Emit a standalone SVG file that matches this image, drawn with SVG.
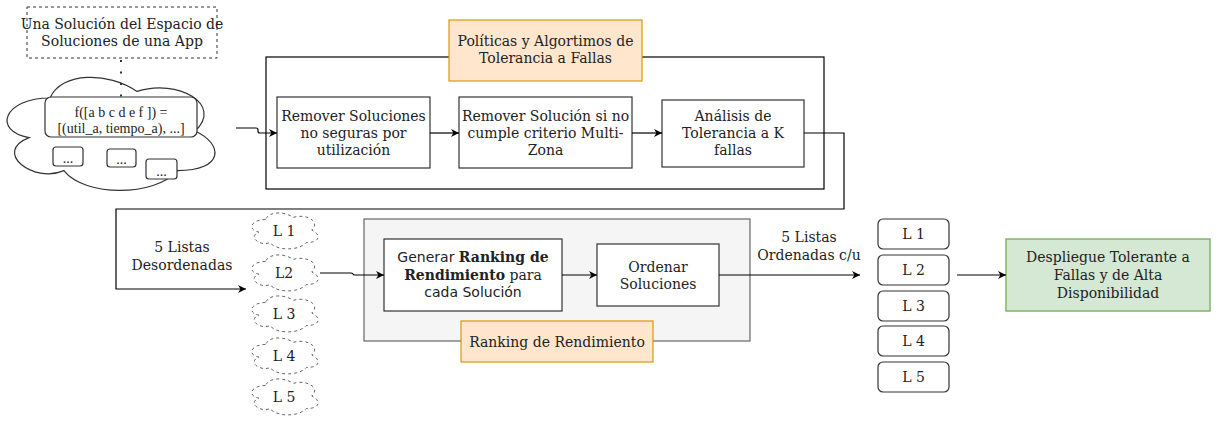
<svg xmlns="http://www.w3.org/2000/svg" width="1222" height="428" viewBox="0 0 1222 428">
<style>
text{font-family:"DejaVu Serif","Liberation Serif",serif;font-size:14px;fill:#222;text-anchor:middle}
.box{fill:#fff;stroke:#333;stroke-width:1.2}
.orange{fill:#ffe6cc;stroke:#d79b00;stroke-width:1.2}
.green{fill:#d5e8d4;stroke:#82b366;stroke-width:1.5}
.grey{fill:#f5f5f5;stroke:#666;stroke-width:1.2}
.cont{fill:none;stroke:#000;stroke-width:1.2}
.conn{fill:none;stroke:#000;stroke-width:1.2}
.times{font-family:"Liberation Serif",serif}
.sans{font-family:"DejaVu Sans",sans-serif}
.dcloud{fill:#fff;stroke:#666;stroke-width:1;stroke-dasharray:3 3}
</style>
<defs>
<marker id="arr" viewBox="0 0 10 10" refX="10" refY="5" markerWidth="8" markerHeight="8" markerUnits="userSpaceOnUse" orient="auto">
<path d="M0,0 L10,5 L0,10 L3,5 z" fill="#000"/>
</marker>
<path id="smallcloud" d="M18.5 10.5 C3.7 10.5 0 21 11.84 23.1 C0 27.72 13.32 37.8 22.94 33.6 C29.6 42 51.8 42 59.2 33.6 C74 33.6 74 25.2 64.75 21 C74 12.6 59.2 4.2 46.25 8.4 C37 2.1 22.2 2.1 18.5 10.5 Z"/>
</defs>

<g id="solucion-app">
<rect x="27" y="7" width="190" height="51" fill="#fff" stroke="#333" stroke-width="1" stroke-dasharray="3 3"/>
<text x="122" y="29" font-size="11">Una Solución del Espacio de</text>
<text x="122" y="46" font-size="11">Soluciones de una App</text>
</g>

<g id="espacio-cloud">
<path d="M50 98 C3.6 98 -8 131 29.1 137.6 C-8 152.1 33.8 183.8 63.9 170.6 C84.8 197 154.4 197 177.6 170.6 C224 170.6 224 144.2 195 131 C224 104.6 177.6 78.2 137 91.4 C108 71.6 61.6 71.6 50 98 Z" fill="#fff" stroke="#333" stroke-width="1.2"/>
<line x1="121" y1="60" x2="121" y2="97" stroke="#333" stroke-width="2" stroke-dasharray="2 9.5"/>
<rect x="45" y="97" width="152" height="40" rx="6" class="box"/>
<text class="times" x="121" y="117" font-size="15.5">f([a b c d e f ]) =</text>
<text class="times" x="121" y="133" font-size="15.5">[(util_a, tiempo_a), ...]</text>
<rect x="53" y="147" width="30" height="19" rx="3" class="box"/>
<text class="times" x="68" y="163" font-size="17">...</text>
<rect x="107" y="149" width="29" height="18" rx="3" class="box"/>
<text class="times" x="121.5" y="164" font-size="17">...</text>
<rect x="146" y="159" width="31" height="20" rx="3" class="box"/>
<text class="times" x="161.5" y="176" font-size="17">...</text>
</g>

<g id="politicas">
<rect x="266" y="57" width="558" height="132" class="cont"/>
<rect x="449" y="20" width="193" height="61" class="orange"/>
<text x="545.5" y="46">Políticas y Algortimos de</text>
<text x="545.5" y="63">Tolerancia a Fallas</text>
</g>

<g id="remover-soluciones">
<rect x="277" y="97" width="153" height="71" class="box"/>
<text x="353.5" y="121">Remover Soluciones</text>
<text x="353.5" y="138">no seguras por</text>
<text x="353.5" y="155">utilización</text>
</g>

<g id="remover-multizona">
<rect x="459" y="97" width="173" height="71" class="box"/>
<text x="545.5" y="121">Remover Solución si no</text>
<text x="545.5" y="138">cumple criterio Multi-</text>
<text x="545.5" y="155">Zona</text>
</g>

<g id="analisis">
<rect x="662" y="100" width="142" height="67" class="box"/>
<text x="733" y="121">Análisis de</text>
<text x="733" y="138">Tolerancia a K</text>
<text x="733" y="155">fallas</text>
</g>

<g id="label-desordenadas">
<text x="182" y="252">5 Listas</text>
<text x="182" y="270">Desordenadas</text>
</g>

<g id="listas-desordenadas">
<use href="#smallcloud" x="247" y="209" class="dcloud"/>
<text x="284" y="236">L 1</text>
<use href="#smallcloud" x="247" y="251" class="dcloud"/>
<text x="284" y="278">L2</text>
<use href="#smallcloud" x="247" y="292" class="dcloud"/>
<text x="284" y="319">L 3</text>
<use href="#smallcloud" x="247" y="334" class="dcloud"/>
<text x="284" y="361">L 4</text>
<use href="#smallcloud" x="247" y="375" class="dcloud"/>
<text x="284" y="402">L 5</text>
</g>

<g id="ranking">
<rect x="364" y="219" width="386" height="122" class="grey"/>
<rect x="461" y="321" width="192" height="41" class="orange"/>
<text x="557" y="346.5">Ranking de Rendimiento</text>
</g>

<g id="generar">
<rect x="384" y="239" width="178" height="72" class="box"/>
<text x="473" y="262"><tspan class="sans">Generar </tspan><tspan font-weight="bold">Ranking de</tspan></text>
<text x="473" y="280"><tspan font-weight="bold">Rendimiento</tspan> para</text>
<text x="473" y="297" class="sans">cada Solución</text>
</g>

<g id="ordenar">
<rect x="597" y="244" width="122" height="62" class="box"/>
<text x="658" y="271.5">Ordenar</text>
<text x="658" y="288.5">Soluciones</text>
</g>

<g id="label-ordenadas">
<text x="809" y="242">5 Listas</text>
<text x="809" y="260">Ordenadas c/u</text>
</g>

<g id="listas-ordenadas">
<rect x="878" y="219" width="71" height="30" rx="5" class="box"/>
<text x="913.5" y="239">L 1</text>
<rect x="878" y="255" width="71" height="30" rx="5" class="box"/>
<text x="913.5" y="275">L 2</text>
<rect x="878" y="291" width="71" height="30" rx="5" class="box"/>
<text x="913.5" y="311">L 3</text>
<rect x="878" y="326" width="71" height="30" rx="5" class="box"/>
<text x="913.5" y="346">L 4</text>
<rect x="878" y="362" width="71" height="30" rx="5" class="box"/>
<text x="913.5" y="382">L 5</text>
</g>

<g id="despliegue">
<rect x="1006" y="239" width="204" height="72" class="green"/>
<text x="1108" y="262">Despliegue Tolerante a</text>
<text x="1108" y="280">Fallas y de Alta</text>
<text x="1108" y="298">Disponibilidad</text>
</g>

<g id="connectors">
<path class="conn" d="M236 128 H256 Q258 128 258 130 V131 Q258 133 260 133 H277" marker-end="url(#arr)"/>
<path class="conn" d="M430 133 H459" marker-end="url(#arr)"/>
<path class="conn" d="M632 133 H662" marker-end="url(#arr)"/>
<path class="conn" d="M804 133 H844 V209 H116 V289 H246" marker-end="url(#arr)"/>
<path class="conn" d="M320 273 H351 Q353 273 353 274 Q353 275 355 275 H384" marker-end="url(#arr)"/>
<path class="conn" d="M562 275 H597" marker-end="url(#arr)"/>
<path class="conn" d="M719 275 H860" marker-end="url(#arr)"/>
<path class="conn" d="M957 275 H1006" marker-end="url(#arr)"/>
</g>
</svg>
